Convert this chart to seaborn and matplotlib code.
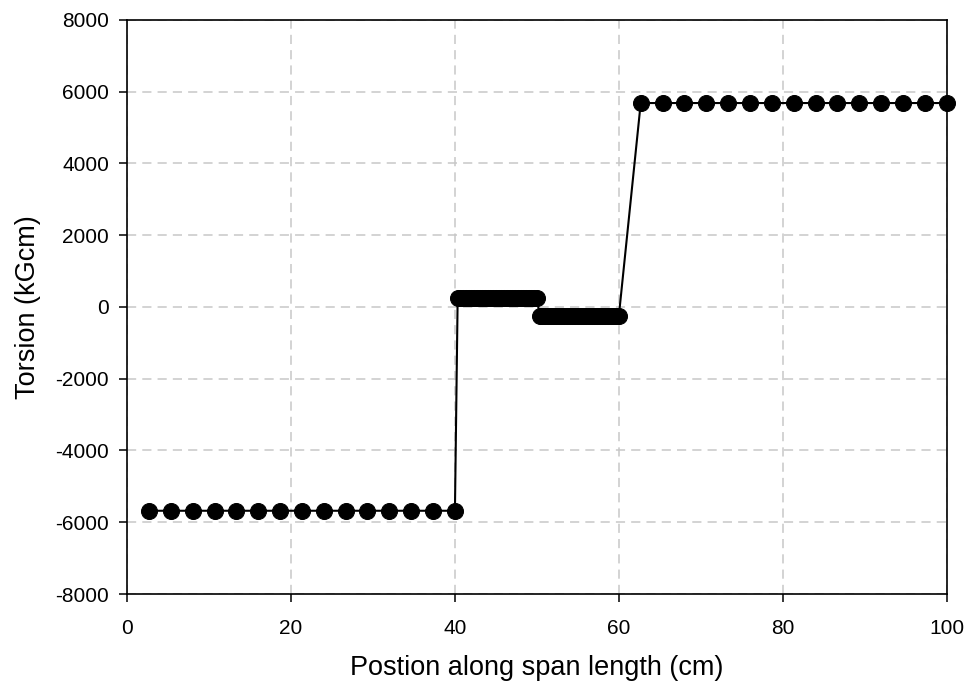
import numpy as np
import pandas as pd
import matplotlib
matplotlib.use("Agg")
import matplotlib.pyplot as plt
import seaborn as sns

# Torsion along the span, sampled at stations (cm)
left_pos = [2.667, 5.333, 8.0, 10.667, 13.333, 16.0, 18.667, 21.333, 24.0,
            26.667, 29.333, 32.0, 34.667, 37.333, 40.0]
left_val = [-5680] * 15

mid_a_pos = [40.333, 40.667, 41.0, 41.333, 41.667, 42.0, 42.333, 42.667, 43.0,
             43.333, 43.667, 44.0, 44.333, 44.667, 45.0, 45.333, 45.667, 46.0,
             46.333, 46.667, 47.0, 47.333, 47.667, 48.0, 48.333, 48.667, 49.0,
             49.333, 49.667, 50.0]
mid_a_val = [250] * 30

mid_b_pos = [50.333, 50.667, 51.0, 51.333, 51.667, 52.0, 52.333, 52.667, 53.0,
             53.333, 53.667, 54.0, 54.333, 54.667, 55.0, 55.333, 55.667, 56.0,
             56.333, 56.667, 57.0, 57.333, 57.667, 58.0, 58.333, 58.667, 59.0,
             59.333, 59.667, 60.0]
mid_b_val = [-250] * 30

right_pos = [62.667, 65.333, 68.0, 70.667, 73.333, 76.0, 78.667, 81.333, 84.0,
             86.667, 89.333, 92.0, 94.667, 97.333, 100.0]
right_val = [5680] * 15

x_ticks = [0, 20, 40, 60, 80, 100]
y_ticks = [-8000, -6000, -4000, -2000, 0, 2000, 4000, 6000, 8000]

df = pd.DataFrame({
    "pos": left_pos + mid_a_pos + mid_b_pos + right_pos,
    "torsion": left_val + mid_a_val + mid_b_val + right_val,
})

sns.set_theme(style="white")
plt.rcParams["font.family"] = ["Liberation Sans", "DejaVu Sans"]
plt.rcParams["axes.unicode_minus"] = False

fig = plt.figure(figsize=(9.7, 6.82), dpi=100)
ax = fig.add_axes([0.131, 0.129, 0.845, 0.842])

sns.lineplot(data=df, x="pos", y="torsion", ax=ax, color="black",
             linewidth=1.5, marker="o", markersize=11.5, markeredgecolor="black",
             markerfacecolor="black", sort=False, zorder=3, clip_on=False)

ax.set_xlim(0, 100)
ax.set_ylim(-8000, 8000)
ax.set_xticks(x_ticks)
ax.set_yticks(y_ticks)
ax.grid(True, color="#c8c8c8", linestyle=(0, (6, 4)), linewidth=1.1)
ax.set_axisbelow(True)

for sp in ax.spines.values():
    sp.set_color("black")
    sp.set_linewidth(1.2)

ax.tick_params(axis="both", direction="out", length=6, width=1.1,
               color="black", labelsize=15, labelcolor="black",
               bottom=True, left=True)
ax.tick_params(axis="x", pad=12)
ax.tick_params(axis="y", pad=7)

ax.set_xlabel("Postion along span length (cm)", fontsize=19.5, labelpad=12,
              color="black")
ax.set_ylabel("Torsion (kGcm)", fontsize=19.5, labelpad=10, color="black")

fig.savefig("out.png", dpi=100)
